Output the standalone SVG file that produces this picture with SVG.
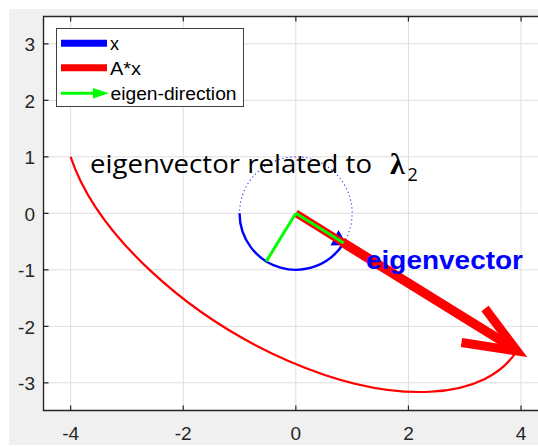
<svg xmlns="http://www.w3.org/2000/svg" width="538" height="447" viewBox="0 0 538 447">
<style>
.grid{stroke:#dedede;stroke-width:1;fill:none}
.axis{stroke:#262626;stroke-width:1.4;fill:none}
.tick{stroke:#262626;stroke-width:1.2}
.tl{font-family:"Liberation Sans",Arial,sans-serif;font-size:19px;fill:#262626}
.lg{font-family:"Liberation Sans",Arial,sans-serif;font-size:18px;fill:#000}
</style>
<rect x="0" y="0" width="538" height="447" fill="#ffffff"/>
<rect x="9" y="9" width="529" height="436" fill="#f0f0f0"/>
<rect x="43.5" y="16.5" width="494.5" height="394" fill="#ffffff"/>
<g id="grid">
<path class="grid" d="M70.65 16.5V410.5M183.25 16.5V410.5M295.85 16.5V410.5M408.45 16.5V410.5M521.05 16.5V410.5"/>
<path class="grid" d="M43.5 43.8H538M43.5 100.3H538M43.5 156.8H538M43.5 213.3H538M43.5 269.8H538M43.5 326.3H538M43.5 382.8H538"/>
</g>
<g id="axes">
<path class="axis" d="M538 16.5H43.5V410.5H538"/>
<path class="tick" d="M70.65 410.5v-5M183.25 410.5v-5M295.85 410.5v-5M408.45 410.5v-5M521.05 410.5v-5M70.65 16.5v5M183.25 16.5v5M295.85 16.5v5M408.45 16.5v5M521.05 16.5v5"/>
<path class="tick" d="M43.5 43.8h5M43.5 100.3h5M43.5 156.8h5M43.5 213.3h5M43.5 269.8h5M43.5 326.3h5M43.5 382.8h5"/>
<g class="tl" text-anchor="end">
<text x="35" y="51">3</text>
<text x="35" y="107.5">2</text>
<text x="35" y="164">1</text>
<text x="35" y="220.5">0</text>
<text x="35" y="277">-1</text>
<text x="35" y="333.5">-2</text>
<text x="35" y="390">-3</text>
</g>
<g class="tl" text-anchor="middle">
<text x="70.65" y="440">-4</text>
<text x="183.25" y="440">-2</text>
<text x="295.85" y="440">0</text>
<text x="408.45" y="440">2</text>
<text x="521.05" y="440">4</text>
</g>
</g>
<g id="connectors">
<path id="x-dotted" d="M343.75 243 A56.3 56.5 0 1 0 239.55 213.3" fill="none" stroke="#2f2fff" stroke-width="1.1" stroke-dasharray="1.2 2.8"/>
<path id="x-solid" d="M239.55 213.3 A56.3 56.5 0 0 0 343.75 243" fill="none" stroke="#0000ff" stroke-width="2.4"/>
<path id="Ax-curve" d="M-1 0 A1 1 0 0 1 0.8507 -0.5257" transform="matrix(225.2 56.5 -56.3 -169.5 295.85 213.3)" fill="none" stroke="#ff0000" stroke-width="2.2" vector-effect="non-scaling-stroke"/>
<polygon id="x-head" points="347,245 338.5,230 330.5,245.5" fill="#0000ff"/>
<line x1="295.85" y1="213.3" x2="344.5" y2="243.5" stroke="#ff0000" stroke-width="7.5"/>
<line x1="342" y1="242" x2="514" y2="348.5" stroke="#ff0000" stroke-width="9.5"/>
<polyline points="461.5,342.5 517,351 485,308.5" fill="none" stroke="#ff0000" stroke-width="9" stroke-linejoin="miter" stroke-miterlimit="6"/>
<line x1="295.85" y1="213.3" x2="343.75" y2="243" stroke="#00ff00" stroke-width="3"/>
<line x1="295.85" y1="213.3" x2="266.25" y2="261.4" stroke="#00ff00" stroke-width="3"/>
</g>
<g id="title">
<text x="90" y="173" font-family="'Open Sans',Lato,sans-serif" font-size="25" fill="#000" textLength="282" lengthAdjust="spacingAndGlyphs">eigenvector related to</text>
<text x="390" y="174" font-family="'Liberation Serif','DejaVu Serif',serif" font-weight="bold" font-size="30" fill="#000">λ</text>
<text x="407.5" y="181" font-family="'Open Sans',Lato,sans-serif" font-size="18" fill="#000">2</text>
</g>
<g id="label-eigenvector">
<text x="366" y="268.5" font-family="'Liberation Sans',Arial,sans-serif" font-weight="bold" font-size="26" fill="#0000ff" textLength="157" lengthAdjust="spacingAndGlyphs">eigenvector</text>
</g>
<g id="legend">
<rect x="56.5" y="28.5" width="187" height="78" fill="#ffffff" stroke="#404040" stroke-width="1"/>
<line x1="61" y1="43.3" x2="107" y2="43.3" stroke="#0000ff" stroke-width="7"/>
<line x1="61" y1="67.7" x2="107" y2="67.7" stroke="#ff0000" stroke-width="7"/>
<line x1="61" y1="93.3" x2="96" y2="93.3" stroke="#00ff00" stroke-width="3"/>
<polygon points="93,88 109,93.3 93,98.6" fill="#00ff00"/>
<text class="lg" x="110" y="50">x</text>
<text class="lg" x="110" y="75" textLength="31" lengthAdjust="spacingAndGlyphs">A*x</text>
<text class="lg" x="110.5" y="100" textLength="126" lengthAdjust="spacingAndGlyphs">eigen-direction</text>
</g>
</svg>
